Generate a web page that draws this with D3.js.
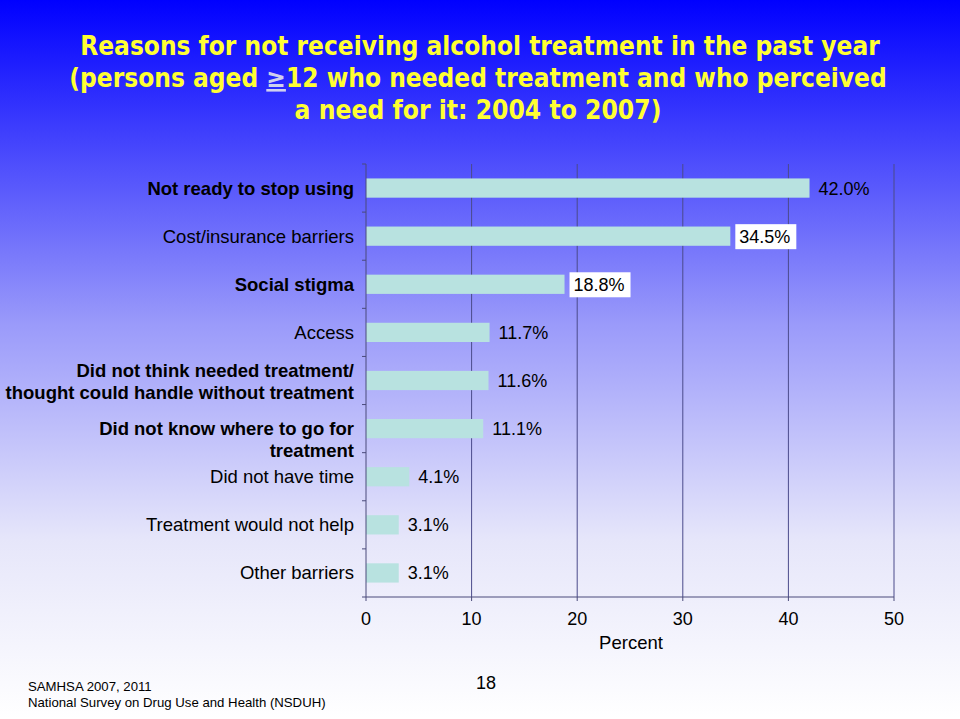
<!DOCTYPE html>
<html><head><meta charset="utf-8">
<script src="https://cdn.jsdelivr.net/npm/d3@7"></script>
<style>html,body{margin:0;padding:0;overflow:hidden}svg{display:block}</style>
</head><body>
<script>
const categories = [
  "Not ready to stop using",
  "Cost/insurance barriers",
  "Social stigma",
  "Access",
  "Did not think needed treatment/|thought could handle without treatment",
  "Did not know where to go for|treatment",
  "Did not have time",
  "Treatment would not help",
  "Other barriers"
];
const boldCats = [true,false,true,false,true,true,false,false,false];
const values = [42.0, 34.5, 18.8, 11.7, 11.6, 11.1, 4.1, 3.1, 3.1];
const boxedLabels = [false,true,true,false,false,false,false,false,false];
const xTicks = [0,10,20,30,40,50];

const W = 960, H = 719;
const svg = d3.select("body").append("svg").attr("width", W).attr("height", H);
const defs = svg.append("defs");
const g = defs.append("linearGradient").attr("id","bg").attr("x1",0).attr("y1",0).attr("x2",0).attr("y2",1);
g.append("stop").attr("offset","0%").attr("stop-color","#0000ff");
g.append("stop").attr("offset","45%").attr("stop-color","#9a9afa");
g.append("stop").attr("offset","75%").attr("stop-color","#e6e6fa");
g.append("stop").attr("offset","100%").attr("stop-color","#ffffff");
svg.append("rect").attr("width",W).attr("height",H).attr("fill","url(#bg)");

// Title
const title = svg.append("g").attr("font-family","'DejaVu Sans Condensed', 'DejaVu Sans', sans-serif")
  .attr("font-weight","bold").attr("font-size",24).attr("fill","#ffff33").attr("text-anchor","middle");
const l1 = title.append("text").attr("x",480).attr("y",55)
  .text("Reasons for not receiving alcohol treatment in the past year");
const l2 = title.append("text").attr("x",478).attr("y",87);
l2.append("tspan").text("(persons aged ");
l2.append("tspan").attr("fill","#d0d0ee").attr("text-decoration","underline").text("≥");
l2.append("tspan").text("12 who needed treatment and who perceived");
const l3 = title.append("text").attr("x",478).attr("y",119)
  .text("a need for it: 2004 to 2007)");
[[l1,800],[l2,818],[l3,367]].forEach(([t,w])=>{
  const nat = t.node().getComputedTextLength();
  t.attr("font-size", 24*w/nat);
});

// Chart
const pL = 366, pR = 894, pT = 164, pB = 597;
const x = d3.scaleLinear().domain([0,50]).range([pL,pR]);
const y = d3.scaleBand().domain(categories).range([pT,pB]).paddingInner(0.6).paddingOuter(0.3);
const band = d3.scaleBand().domain(categories).range([pT,pB]);

// gridlines
svg.append("g").selectAll("line").data(xTicks.slice(1)).join("line")
  .attr("x1",d=>x(d)).attr("x2",d=>x(d)).attr("y1",pT).attr("y2",pB)
  .attr("stroke","#4a4a8a").attr("stroke-width",1);

// bars
svg.append("g").selectAll("rect").data(values).join("rect")
  .attr("x",x(0)).attr("y",(d,i)=>y(categories[i]))
  .attr("width",d=>x(d)-x(0)).attr("height",y.bandwidth())
  .attr("fill","#b8e2e0");

// axes lines
svg.append("line").attr("x1",pL).attr("x2",pL).attr("y1",pT).attr("y2",pB).attr("stroke","#4a4a7a");
svg.append("line").attr("x1",pL).attr("x2",pR).attr("y1",pB).attr("y2",pB).attr("stroke","#4a4a7a");
// y ticks at band boundaries
const bounds = categories.map(c=>band(c)).concat([pB]);
svg.append("g").selectAll("line").data(bounds).join("line")
  .attr("x1",pL-4).attr("x2",pL).attr("y1",d=>d).attr("y2",d=>d).attr("stroke","#4a4a7a");
// x ticks
svg.append("g").selectAll("line").data(xTicks).join("line")
  .attr("x1",d=>x(d)).attr("x2",d=>x(d)).attr("y1",pB).attr("y2",pB+4).attr("stroke","#4a4a7a");
svg.append("g").attr("font-family","'Liberation Sans', Arial, sans-serif").attr("font-size",18).attr("fill","#000")
  .attr("text-anchor","middle").selectAll("text").data(xTicks).join("text")
  .attr("x",d=>x(d)).attr("y",625).text(d=>d);
svg.append("text").attr("x",631).attr("y",649).attr("text-anchor","middle")
  .attr("font-family","'Liberation Sans', Arial, sans-serif").attr("font-size",18.5).attr("fill","#000").text("Percent");

// category labels
const lineOffsets = [[0],[0],[0],[0],[-10,12],[0,22],[0],[0],[0]];
const lab = svg.append("g").attr("font-family","'Liberation Sans', Arial, sans-serif").attr("font-size",18.5)
  .attr("fill","#000").attr("text-anchor","end");
categories.forEach((c,i)=>{
  const cy = y(c) + y.bandwidth()/2;
  c.split("|").forEach((ln,j)=>{
    lab.append("text").attr("x",354).attr("y",cy + lineOffsets[i][j] + 6.5)
      .attr("font-weight",boldCats[i]?"bold":"normal").text(ln);
  });
});

// value labels
const vl = svg.append("g");
values.forEach((v,i)=>{
  const cy = y(categories[i]) + y.bandwidth()/2;
  const tx = x(v) + 9;
  if (boxedLabels[i]) {
    vl.append("rect").attr("x",x(v)+5).attr("y",cy-12).attr("width",61).attr("height",25).attr("fill","#ffffff");
  }
  vl.append("text").attr("x",tx).attr("y",cy+6.5)
    .attr("font-family","'Liberation Sans', Arial, sans-serif").attr("font-size",18).attr("fill","#000")
    .text(v.toFixed(1)+"%");
});

// footer
const ft = svg.append("g").attr("font-family","'Liberation Sans', Arial, sans-serif").attr("fill","#000");
ft.append("text").attr("x",28).attr("y",691).attr("font-size",13.2).text("SAMHSA 2007, 2011");
ft.append("text").attr("x",28).attr("y",707).attr("font-size",13.2).text("National Survey on Drug Use and Health (NSDUH)");
ft.append("text").attr("x",486).attr("y",689).attr("font-size",18).attr("text-anchor","middle").text("18");
</script>
</body></html>
